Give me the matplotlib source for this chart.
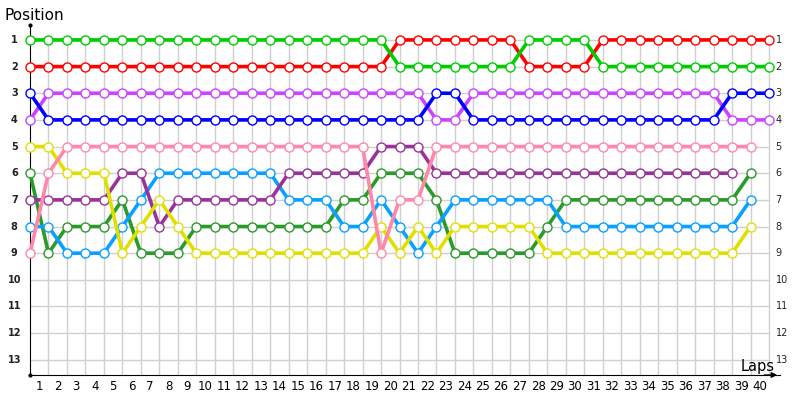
import matplotlib.pyplot as plt

# positions per lap (index = lap number, starting at lap 0 = grid)
laps_label = list(range(1, 41))
positions = list(range(1, 14))

green = [1, 1, 1, 1, 1, 1, 1, 1, 1, 1, 1, 1, 1, 1, 1, 1, 1, 1, 1, 1,
         2, 2, 2, 2, 2, 2, 2, 1, 1, 1, 1, 2, 2, 2, 2, 2, 2, 2, 2, 2, 2]
red = [2, 2, 2, 2, 2, 2, 2, 2, 2, 2, 2, 2, 2, 2, 2, 2, 2, 2, 2, 2,
       1, 1, 1, 1, 1, 1, 1, 2, 2, 2, 2, 1, 1, 1, 1, 1, 1, 1, 1, 1, 1]
blue = [3, 4, 4, 4, 4, 4, 4, 4, 4, 4, 4, 4, 4, 4, 4, 4, 4, 4, 4, 4,
        4, 4, 3, 3, 4, 4, 4, 4, 4, 4, 4, 4, 4, 4, 4, 4, 4, 4, 3, 3, 3]
violet = [4, 3, 3, 3, 3, 3, 3, 3, 3, 3, 3, 3, 3, 3, 3, 3, 3, 3, 3, 3,
          3, 3, 4, 4, 3, 3, 3, 3, 3, 3, 3, 3, 3, 3, 3, 3, 3, 3, 4, 4, 4]
yellow = [5, 5, 6, 6, 6, 9, 8, 7, 8, 9, 9, 9, 9, 9, 9, 9, 9, 9, 9, 8,
          9, 8, 9, 8, 8, 8, 8, 8, 9, 9, 9, 9, 9, 9, 9, 9, 9, 9, 9, 8]
pink = [9, 6, 5, 5, 5, 5, 5, 5, 5, 5, 5, 5, 5, 5, 5, 5, 5, 5, 5, 9,
        7, 7, 5, 5, 5, 5, 5, 5, 5, 5, 5, 5, 5, 5, 5, 5, 5, 5, 5, 5]
dkpurple = [7, 7, 7, 7, 7, 6, 6, 8, 7, 7, 7, 7, 7, 7, 6, 6, 6, 6, 6, 5,
            5, 5, 6, 6, 6, 6, 6, 6, 6, 6, 6, 6, 6, 6, 6, 6, 6, 6, 6]
ltblue = [8, 8, 9, 9, 9, 8, 7, 6, 6, 6, 6, 6, 6, 6, 7, 7, 7, 8, 8, 7,
          8, 9, 8, 7, 7, 7, 7, 7, 7, 8, 8, 8, 8, 8, 8, 8, 8, 8, 8, 7]
dkgreen = [6, 9, 8, 8, 8, 7, 9, 9, 9, 8, 8, 8, 8, 8, 8, 8, 8, 7, 7, 6,
           6, 6, 7, 9, 9, 9, 9, 9, 8, 7, 7, 7, 7, 7, 7, 7, 7, 7, 7, 6]

series = [
    (dkgreen, '#2a9a2a'),
    (ltblue, '#0aa0ff'),
    (dkpurple, '#993399'),
    (yellow, '#e0e000'),
    (pink, '#ff88aa'),
    (violet, '#cc44ff'),
    (blue, '#0000ff'),
    (red, '#ff0000'),
    (green, '#00cc00'),
]

fig = plt.figure(figsize=(8, 4), dpi=100)
ax = fig.add_axes([30 / 800, 25 / 400, 750 / 800, 350 / 400])
xmax = 40 * 750 / 739
ax.set_xlim(0, xmax)
ax.set_ylim(13.57, 0.44)

# grid
ax.vlines(laps_label, 1, 13.57, color='#d0d0d0', lw=1, zorder=0)
ax.hlines(positions, 0, 40, color='#d0d0d0', lw=1, zorder=0)

for data, col in series:
    x = list(range(len(data)))
    ax.plot(x, data, color=col, lw=2.6, marker='o', markersize=6.5,
            markerfacecolor='white', markeredgecolor=col, markeredgewidth=1,
            zorder=3, clip_on=False)

for s in ['top', 'right']:
    ax.spines[s].set_visible(False)
ax.spines['left'].set_color('black')
ax.spines['bottom'].set_color('black')
ax.set_xticks([])
ax.set_yticks([])

# axis ends
ax.plot([0], [13.57], 'k.', ms=4, clip_on=False, zorder=5)
ax.plot([0], [0.44], 'k.', ms=4, clip_on=False, zorder=5)
ax.annotate('', xy=(xmax, 13.57), xytext=(xmax - 1.0, 13.57),
            arrowprops=dict(arrowstyle='-|>', color='black', lw=1, mutation_scale=8),
            annotation_clip=False)

# labels
for p in positions:
    ax.text(-0.85, p, str(p), ha='center', va='center', fontsize=7, fontweight='bold',
            color='#222222')
    ax.text(40.35, p, str(p), ha='left', va='center', fontsize=7, color='#222222')
for k in laps_label:
    ax.text(k - 0.5, 14.0, str(k), ha='center', va='center', fontsize=8.5)

fig.text(4 / 800, 1 - 15 / 400, 'Position', ha='left', va='center', fontsize=11)
fig.text(775 / 800, 1 - 366 / 400, 'Laps', ha='right', va='center', fontsize=10.5)

fig.savefig('out.png', dpi=100)
